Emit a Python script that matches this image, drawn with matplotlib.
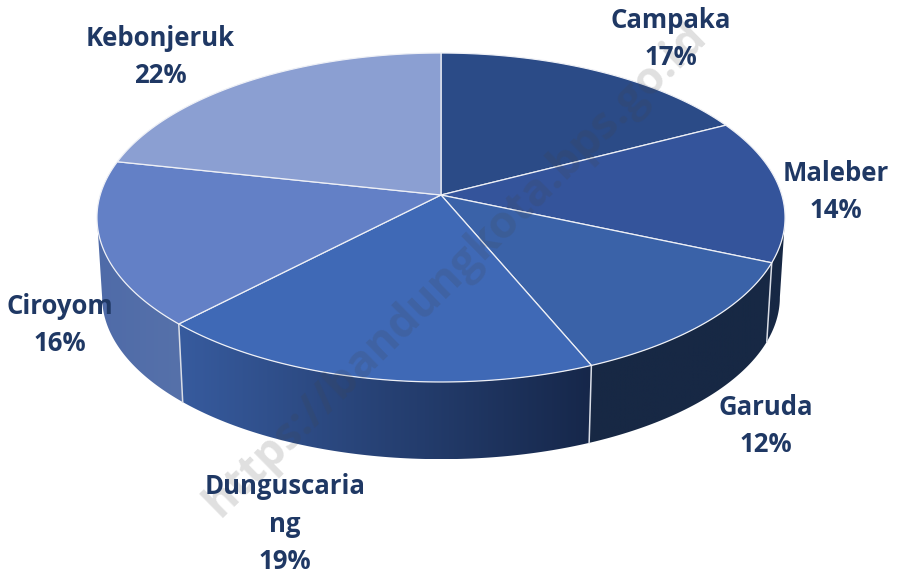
import numpy as np
import matplotlib.pyplot as plt
from matplotlib.colors import LinearSegmentedColormap
from matplotlib.patches import Polygon

names = ['Campaka', 'Maleber', 'Garuda', 'Dunguscaria\nng', 'Ciroyom', 'Kebonjeruk']
values = [17.4, 14.1, 12.2, 18.5, 16.2, 21.6]
pct_labels = ['17%', '14%', '12%', '19%', '16%', '22%']
top_colors = ['#2b4b87', '#34549b', '#3a62a8', '#3f69b6', '#6380c6', '#8b9fd2']
wall_left = ['#172844', '#172844', '#172844', '#375b9e', '#4f6ba8', '#8b9fd2']
wall_right = ['#172844', '#172844', '#172844', '#16274a', '#5671aa', '#8b9fd2']
label_xy = [(671, 39), (836, 192), (766, 426), (285, 524), (60, 325), (160, 57)]

# projection of the tilted disc, in image pixels
cx, cy = 441, 195
c = 0.1368
a = 161.4
k = 340.8
depth = 80
shrink = 0.985
ink = '#1f3864'

plt.rcParams['font.family'] = ['Open Sans', 'DejaVu Sans']


def rim(pct):
    t = 2 * np.pi * np.asarray(pct) / 100
    d = 1 + c * np.cos(t)
    return cx + k * np.sin(t) / d, cy - a * np.cos(t) / d


def low_rim(pct):
    x, y = rim(pct)
    return cx + (x - cx) * shrink, cy + (y - cy) * shrink + depth


fig = plt.figure(figsize=(9, 5.74), dpi=100)
ax = fig.add_axes([0, 0, 1, 1])

edges = np.concatenate([[0], np.cumsum(values)])
vis_a = np.degrees(np.pi - np.arccos(c)) / 3.6
vis_b = 100 - vis_a

# side wall, only the front part shows
for i in range(len(values)):
    p0 = max(edges[i], vis_a)
    p1 = min(edges[i + 1], vis_b)
    if p1 <= p0:
        continue
    ps = np.linspace(p0, p1, 80)
    xt, yt = rim(ps)
    xb, yb = low_rim(ps)
    pts = np.column_stack([np.r_[xt, xb[::-1]], np.r_[yt, yb[::-1]]])
    poly = Polygon(pts, closed=True, fc='none', ec='none')
    ax.add_patch(poly)
    cm = LinearSegmentedColormap.from_list('w', [wall_left[i], wall_right[i]])
    im = ax.imshow(np.linspace(0, 1, 256)[None, :], cmap=cm, aspect='auto',
                   extent=[pts[:, 0].min(), pts[:, 0].max(), pts[:, 1].max(), pts[:, 1].min()],
                   zorder=2)
    im.set_clip_path(poly)

for e in edges[1:-1]:
    if vis_a < e < vis_b:
        xt, yt = rim(e)
        xb, yb = low_rim(e)
        ax.plot([xt, xb], [yt, yb], color='#d9dde6', lw=1.1, zorder=3)

# top face
for i in range(len(values)):
    ps = np.linspace(edges[i], edges[i + 1], 120)
    x, y = rim(ps)
    ax.add_patch(Polygon(np.column_stack([np.r_[cx, x], np.r_[cy, y]]), closed=True,
                         fc=top_colors[i], ec='#eef0f6', lw=0.9, zorder=4))

# watermark
ax.text(456, 270, 'https://bandungkota.bps.go.id', rotation=44.5, rotation_mode='anchor',
        ha='center', va='center', fontsize=32.5, color='#444444', alpha=0.17,
        fontweight='bold', zorder=6)

for name, pct, (x, y) in zip(names, pct_labels, label_xy):
    ax.text(x, y, name + '\n' + pct, ha='center', va='center', fontsize=18.5,
            fontweight='bold', color=ink, linespacing=1.5, zorder=7)

ax.set_xlim(0, 900)
ax.set_ylim(574, 0)
ax.axis('off')
fig.savefig('out.png', dpi=100, facecolor='white')
